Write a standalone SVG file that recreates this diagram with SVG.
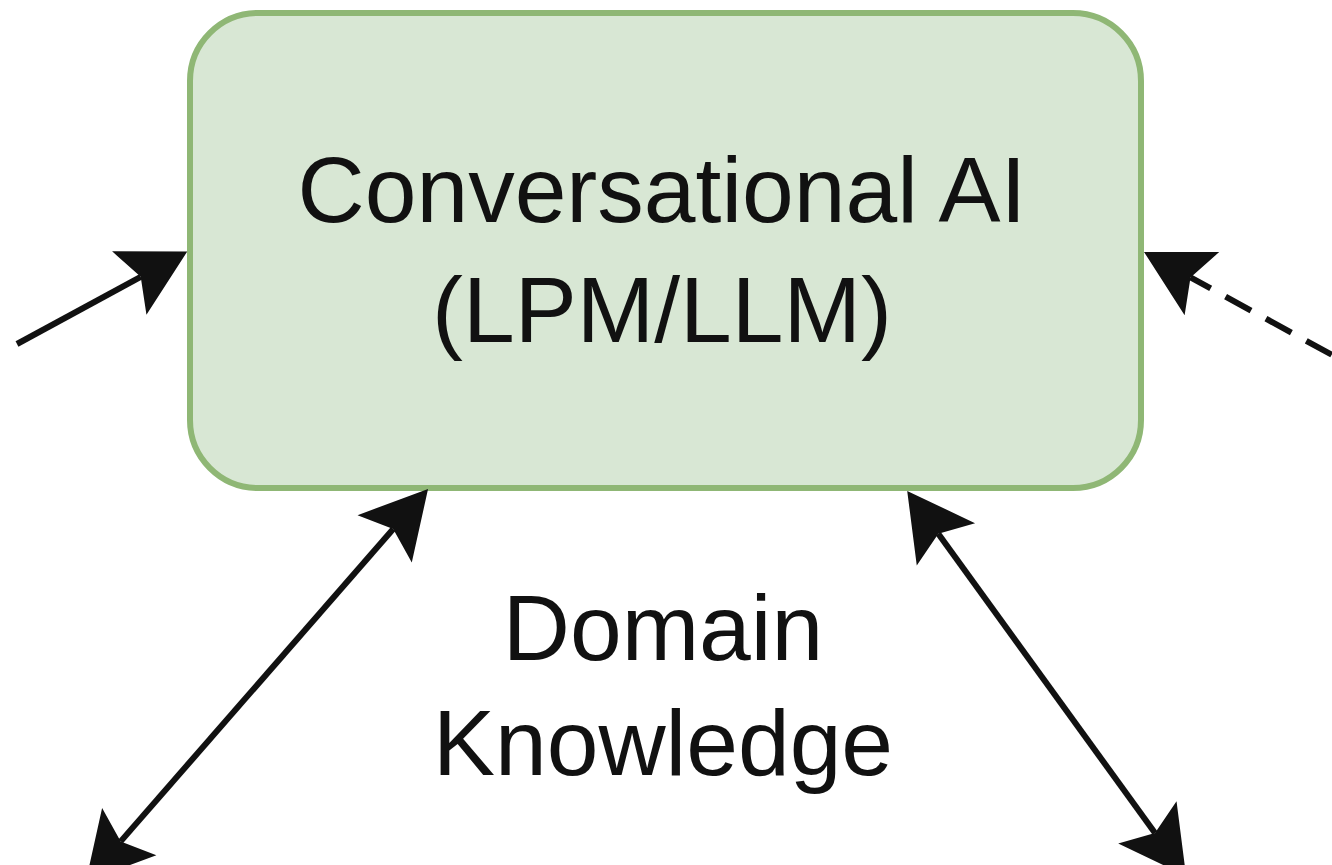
<svg xmlns="http://www.w3.org/2000/svg" width="1332" height="865" viewBox="0 0 1332 865">
  <style>
    .node-box { fill: #d8e7d4; stroke: #8fb775; stroke-width: 6; }
    .label { font-family: "Liberation Sans", Arial, Helvetica, sans-serif; font-size: 93px; fill: #111111; text-anchor: middle; }
    .edge { fill: none; stroke: #111111; stroke-width: 6; }
    .dashed { stroke-dasharray: 29 17; stroke-dashoffset: 6; }
  </style>
  <defs>
    <marker id="arrow" markerUnits="userSpaceOnUse" viewBox="-16 -40 72 80" markerWidth="72" markerHeight="80" refX="0" refY="0" orient="auto-start-reverse">
      <path d="M53,0 L-13,-36 L0,0 L-13,36 Z" fill="#111111" stroke="none"/>
    </marker>
  </defs>
  <rect width="1332" height="865" fill="#ffffff"/>

  <g id="conversational-ai">
    <rect class="node-box" x="190" y="13" width="951" height="475" rx="68" ry="68"/>
    <text class="label" x="662" y="222">Conversational AI</text>
    <text class="label" x="662" y="342">(LPM/LLM)</text>
  </g>

  <g id="connectors">
    <path class="edge" d="M17,344 L140.7,276.8" marker-end="url(#arrow)"/>
    <path class="edge dashed" d="M1190.5,277.4 L1345,362" marker-start="url(#arrow)"/>
    <path class="edge" d="M393.2,529 L120.7,841.4" marker-start="url(#arrow)" marker-end="url(#arrow)"/>
    <path class="edge" d="M938.3,533.8 L1155,833" marker-start="url(#arrow)" marker-end="url(#arrow)"/>
  </g>

  <g id="domain-knowledge">
    <text class="label" x="663" y="660">Domain</text>
    <text class="label" x="663" y="775">Knowledge</text>
  </g>
</svg>
